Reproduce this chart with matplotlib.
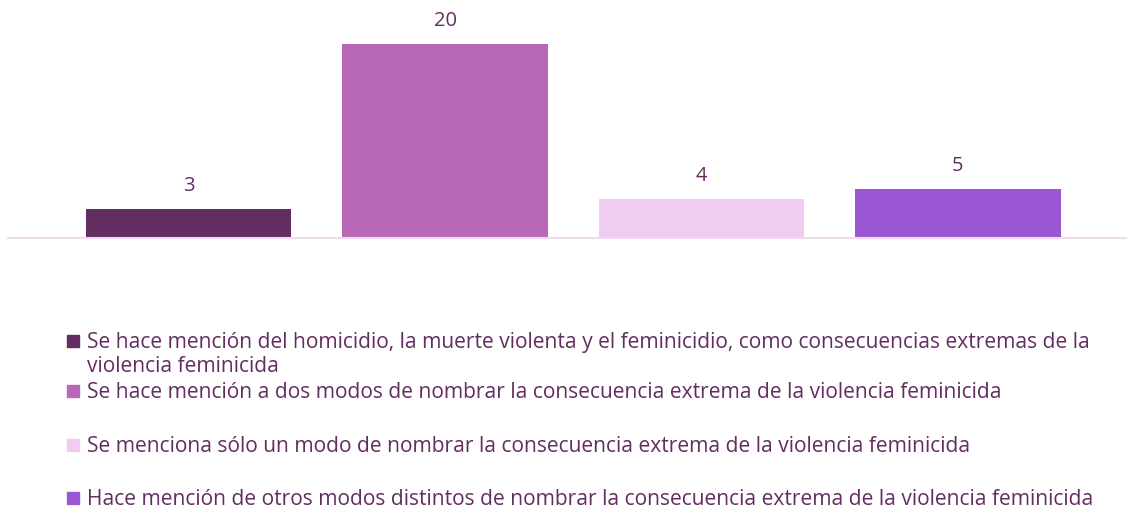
import matplotlib
matplotlib.use("Agg")
import matplotlib.pyplot as plt
from matplotlib.patches import Rectangle

categorias = [
    "Se hace mención del homicidio, la muerte violenta y el feminicidio, como consecuencias extremas de la\nviolencia feminicida",
    "Se hace mención a dos modos de nombrar la consecuencia extrema de la violencia feminicida",
    "Se menciona sólo un modo de nombrar la consecuencia extrema de la violencia feminicida",
    "Hace mención de otros modos distintos de nombrar la consecuencia extrema de la violencia feminicida",
]
valores = [3, 20, 4, 5]
colores = ["#632D61", "#B968B7", "#F0CDF0", "#9B57D3"]
texto_color = "#632D61"

plt.rcParams["font.family"] = ["Open Sans", "DejaVu Sans"]

W, H = 1127, 508
fig = plt.figure(figsize=(W / 100, H / 100), dpi=100)
ax = fig.add_axes([8 / W, (H - 238) / H, (W - 8) / W, 238 / H])

x = list(range(len(valores)))
barras = ax.bar(x, valores, width=0.8, color=colores)
ax.set_xlim(-0.704, 3.659)
ax.set_ylim(0, 24.5)

for b, v in zip(barras, valores):
    ax.annotate(str(v), (b.get_x() + b.get_width() / 2, b.get_height()),
                xytext=(0, 13), textcoords="offset points",
                ha="center", va="baseline", fontsize=14.5, color=texto_color)

for s in ["top", "right", "left"]:
    ax.spines[s].set_visible(False)
ax.spines["bottom"].set_color("#F0DCF0")
ax.spines["bottom"].set_linewidth(1.5)
ax.set_xticks([])
ax.set_yticks([])

# leyenda manual, una linea de texto a la vez
bases = [348, 398, 452, 505]
for lab, col, yb in zip(categorias, colores, bases):
    fig.patches.append(Rectangle((67 / W, (H - yb + 1) / H), 12 / W, 12 / H,
                                 transform=fig.transFigure, color=col))
    for i, linea in enumerate(lab.split("\n")):
        fig.text(87 / W, (H - yb - 24 * i) / H, linea, ha="left", va="baseline",
                 fontsize=15.1, color=texto_color)

fig.savefig("out.png", dpi=100)
